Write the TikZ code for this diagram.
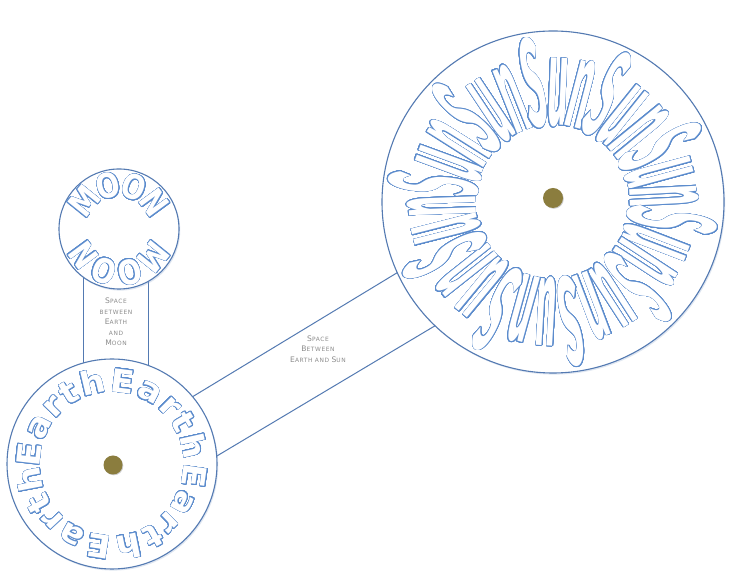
\documentclass[tikz,border=0pt]{standalone}
\usepackage{fontspec}
\usepackage{graphicx}
\usepackage{contour}
\usetikzlibrary{decorations.text,shadows}
\contourlength{0.55pt}
\contournumber{32}
\newfontfamily\ringfont{DejaVu Sans}
\newfontfamily\sunfam{Fira Sans}
\newfontfamily\lblfont[LetterSpace=10.0]{DejaVu Sans}
\definecolor{ringcol}{RGB}{84,122,178}
\definecolor{txtcol}{RGB}{92,140,205}
\definecolor{dotcol}{RGB}{139,125,62}
\definecolor{lblcol}{RGB}{140,140,140}
\def\mysunS{S}
\newcommand\earthchar[1]{\contour{txtcol}{\scalebox{1.08}[1]{#1}}}
\newcommand\moonchar[1]{\contour{txtcol}{\scalebox{0.82}[1]{#1}}}
\newcommand\sunchar[1]{\def\mysunchr{#1}\contour{txtcol}{\ifx\mysunchr\mysunS\scalebox{1.0}[2.9]{#1}\else\scalebox{1.0}[3.5]{#1}\fi}}
\newcommand\bigsc[2]{{\fontsize{7.6}{10.5}\selectfont#1}{\fontsize{5.9}{10.5}\selectfont#2}}
\tikzset{
  body/.style={circle, draw=ringcol, line width=1.1pt, fill=white, inner sep=0pt,
    drop shadow={shadow xshift=1.2pt, shadow yshift=-1.6pt, fill=ringcol!60, opacity=0.3}},
  core/.style={circle, fill=dotcol, inner sep=0pt,
    drop shadow={shadow xshift=0.8pt, shadow yshift=-0.8pt, fill=black, opacity=0.2}},
  bandline/.style={draw=ringcol, line width=1pt},
  lbl/.style={align=center, text=lblcol, font=\lblfont\fontsize{6}{10.5}\selectfont, inner sep=0pt},
}
\begin{document}
\begin{tikzpicture}[x=1pt,y=1pt]
\useasboundingbox (0,0) rectangle (736,575);
\fill[white] (0,0) rectangle (736,575);
% bands
\coordinate (emL1) at (83,150); \coordinate (emL2) at (83,300);
\coordinate (emR1) at (148,150); \coordinate (emR2) at (148,300);
\draw[bandline] (emL1) -- (emL2);
\draw[bandline] (emR1) -- (emR2);
\coordinate (esU1) at (188,175.5); \coordinate (esU2) at (400,304);
\coordinate (esD1) at (211,115.5); \coordinate (esD2) at (438,251);
\draw[bandline] (esU1) -- (esU2);
\draw[bandline] (esD1) -- (esD2);
% bodies
\node[body, minimum size=120pt] (moon) at (119,346) {};
\node[body, minimum size=210pt] (earth) at (112,111) {};
\node[body, minimum size=342pt] (sun) at (553,373) {};
\node[core, minimum size=19pt] (earthcore) at (113,110) {};
\node[core, minimum size=20pt] (suncore) at (553,377) {};
% ring texts
\path[decorate, decoration={text effects along path, text={MOON}, raise=-15pt,
  text effects/.cd, text along path, fit text to path, character command=\moonchar,
  characters={inner sep=0pt, text=white, font=\ringfont\bfseries\fontsize{34}{34}\selectfont}}]
  ([shift={(158:47)}]moon.center) arc[start angle=158, end angle=22, radius=47];
\path[decorate, decoration={text effects along path, text={MOON}, raise=-15pt,
  text effects/.cd, text along path, fit text to path, character command=\moonchar,
  characters={inner sep=0pt, text=white, font=\ringfont\bfseries\fontsize{34}{34}\selectfont}}]
  ([shift={(-22:47)}]moon.center) arc[start angle=-22, end angle=-158, radius=47];
\path[decorate, decoration={text effects along path, text={EarthEarthEarthEarth}, raise=-7pt,
  text effects/.cd, text along path, fit text to path, character command=\earthchar,
  characters={inner sep=0pt, text=white, font=\ringfont\bfseries\fontsize{32}{32}\selectfont}}]
  ([shift={(182:79)}]earth.center) arc[start angle=182, end angle=-178, radius=79];
\path[decorate, decoration={text effects along path, text={SunSunSunSunSunSunSunSunSunSun}, raise=-37pt,
  text effects/.cd, text along path, fit text to path, character command=\sunchar,
  characters={inner sep=0pt, text=white, font=\sunfam\bfseries\fontsize{36}{36}\selectfont}}]
  ([shift={(177:114)}]sun.center) arc[start angle=177, end angle=-183, radius=114];
% labels
\node[lbl] (lblmoon) at (116,253) {\bigsc{S}{PACE}\\\bigsc{}{BETWEEN}\\\bigsc{E}{ARTH}\\\bigsc{}{AND}\\\bigsc{M}{OON}};
\node[lbl] (lblsun) at (318,226) {\bigsc{S}{PACE}\\\bigsc{B}{ETWEEN}\\\bigsc{E}{ARTH AND} \bigsc{S}{UN}};
\end{tikzpicture}
\end{document}
